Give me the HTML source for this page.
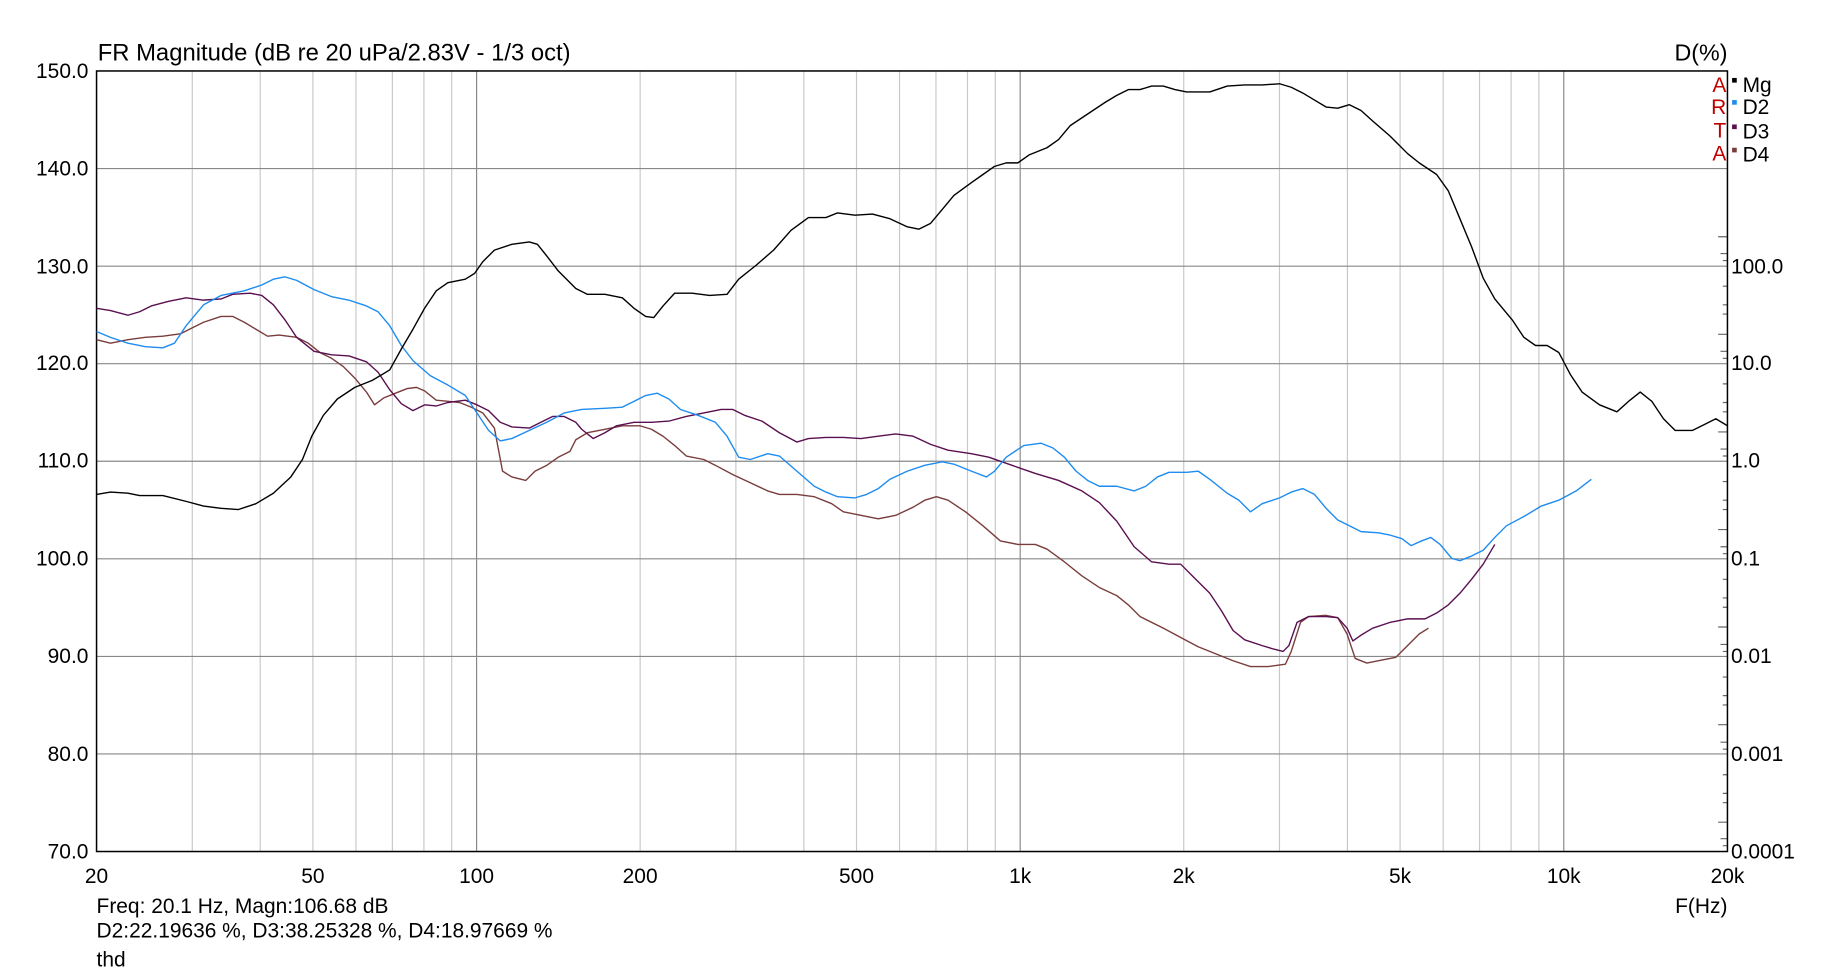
<!DOCTYPE html>
<html><head><meta charset="utf-8"><style>html,body{margin:0;padding:0;background:#fff}svg{display:block}</style></head>
<body>
<svg width="1824" height="976" viewBox="0 0 1568 839" xmlns="http://www.w3.org/2000/svg" font-family="Liberation Sans, Arial, sans-serif">
<rect width="1568" height="839" fill="#fff"/>
<g stroke="#c8c8c8" stroke-width="1">
<line x1="165.3" y1="61" x2="165.3" y2="732"/><line x1="223.7" y1="61" x2="223.7" y2="732"/><line x1="269" y1="61" x2="269" y2="732"/><line x1="306" y1="61" x2="306" y2="732"/><line x1="337.3" y1="61" x2="337.3" y2="732"/><line x1="364.4" y1="61" x2="364.4" y2="732"/><line x1="388.3" y1="61" x2="388.3" y2="732"/>
<line x1="550.3" y1="61" x2="550.3" y2="732"/><line x1="632.6" y1="61" x2="632.6" y2="732"/><line x1="691" y1="61" x2="691" y2="732"/><line x1="736.3" y1="61" x2="736.3" y2="732"/><line x1="773.3" y1="61" x2="773.3" y2="732"/><line x1="804.6" y1="61" x2="804.6" y2="732"/><line x1="831.7" y1="61" x2="831.7" y2="732"/><line x1="855.6" y1="61" x2="855.6" y2="732"/>
<line x1="1017.6" y1="61" x2="1017.6" y2="732"/><line x1="1099.9" y1="61" x2="1099.9" y2="732"/><line x1="1158.3" y1="61" x2="1158.3" y2="732"/><line x1="1203.6" y1="61" x2="1203.6" y2="732"/><line x1="1240.6" y1="61" x2="1240.6" y2="732"/><line x1="1271.9" y1="61" x2="1271.9" y2="732"/><line x1="1299" y1="61" x2="1299" y2="732"/><line x1="1322.9" y1="61" x2="1322.9" y2="732"/>
</g>
<g stroke="#888" stroke-width="1">
<line x1="409.7" y1="61" x2="409.7" y2="732"/><line x1="877" y1="61" x2="877" y2="732"/><line x1="1344.3" y1="61" x2="1344.3" y2="732"/>
<line x1="83" y1="144.9" x2="1485" y2="144.9"/><line x1="83" y1="228.8" x2="1485" y2="228.8"/><line x1="83" y1="312.6" x2="1485" y2="312.6"/><line x1="83" y1="396.5" x2="1485" y2="396.5"/><line x1="83" y1="480.4" x2="1485" y2="480.4"/><line x1="83" y1="564.3" x2="1485" y2="564.3"/><line x1="83" y1="648.1" x2="1485" y2="648.1"/>
</g>
<g stroke="#666" stroke-width="1">
<path d="M1477 203.5H1485M1479 218H1485M1481 224H1485M1477 287.4H1485M1479 302H1485M1481 308H1485M1477 371.3H1485M1479 386H1485M1481 392H1485M1477 455.2H1485M1479 470H1485M1481 476H1485M1477 539H1485M1479 554H1485M1481 560H1485M1477 623H1485M1479 638H1485M1481 644H1485M1477 706.8H1485M1479 721H1485M1481 727H1485M1481 246H1485M1481 262H1485M1481 270H1485M1481 330H1485M1481 346H1485M1481 354H1485M1481 414H1485M1481 430H1485M1481 438H1485M1481 498H1485M1481 514H1485M1481 522H1485M1481 582H1485M1481 598H1485M1481 606H1485M1481 666H1485M1481 682H1485M1481 690H1485"/>
</g>
<rect x="83" y="61" width="1402" height="671" fill="none" stroke="#000" stroke-width="1.3"/>
<g fill="none" stroke-width="1.2" stroke-linejoin="round">
<polyline stroke="#7a3d3d" points="83,292 95,295 110,292 125,290 140,289 155,287 165,282 175,277 190,272 200,272 210,277 220,283 230,289 240,288 255,290 265,295 275,303 285,308 295,315 305,325 315,337 322,348 330,342 340,338 350,334 358,333 365,336 375,344 385,345 395,346 405,350 415,355 425,368 432,405 440,410 452,413 460,405 470,400 480,393 490,388 495,378 505,372 520,369 535,366 550,366 560,369 570,375 580,383 590,392 605,395 615,400 630,408 645,415 660,422 670,425 685,425 700,427 715,433 725,440 740,443 755,446 770,443 785,436 795,430 805,427 815,430 830,440 845,452 860,465 875,468 890,468 900,472 915,483 930,495 945,505 960,512 970,520 980,530 1000,540 1015,548 1030,556 1045,562 1060,568 1075,573 1090,573 1105,571 1110,560 1118,535 1125,530 1140,529 1150,531 1158,545 1165,566 1175,570 1190,567 1200,565 1210,555 1220,545 1228,540"/>
<polyline stroke="#5a0f50" points="83,265 95,267 110,271 120,268 130,263 145,259 160,256 175,258 190,257 200,253 215,252 225,254 235,262 245,275 255,290 270,302 285,305 300,306 315,311 325,320 335,335 345,347 355,353 365,348 375,349 385,346 400,344 410,348 420,353 430,363 440,367 455,368 465,363 475,358 485,358 495,363 500,369 510,377 520,372 530,366 545,363 560,363 575,362 590,358 605,355 620,352 630,352 640,357 655,362 670,372 685,380 695,377 710,376 725,376 740,377 755,375 770,373 785,375 800,382 815,387 835,390 850,393 870,400 890,407 910,413 930,422 945,432 960,448 975,470 990,483 1005,485 1015,485 1025,495 1040,510 1050,525 1060,542 1070,550 1085,555 1095,558 1103,560 1108,555 1115,535 1125,530 1140,530 1150,531 1158,540 1163,551 1170,546 1180,540 1195,535 1210,532 1225,532 1235,527 1245,520 1255,510 1265,498 1275,485 1285,468"/>
<polyline stroke="#1e8cf0" points="83,285 95,290 110,295 125,298 140,299 150,295 160,280 175,262 190,254 210,250 225,245 235,240 245,238 255,241 270,249 285,255 300,258 315,263 325,268 335,280 345,297 355,310 370,323 385,331 400,340 410,355 420,370 430,379 440,377 455,370 470,363 485,355 500,352 520,351 535,350 545,345 555,340 565,338 575,343 585,352 600,357 615,363 625,375 635,393 645,395 660,390 670,392 685,405 700,418 710,423 720,427 735,428 745,425 755,420 765,412 780,405 795,400 810,397 820,399 835,405 848,410 855,405 865,393 880,383 895,381 905,385 915,393 925,405 935,413 945,418 960,418 975,422 985,418 995,410 1005,406 1020,406 1030,405 1040,412 1055,424 1065,430 1075,440 1085,433 1100,428 1110,423 1120,420 1130,425 1140,437 1150,447 1160,452 1170,457 1185,458 1195,460 1205,463 1213,469 1222,465 1230,462 1238,468 1248,480 1255,482 1265,478 1275,473 1285,462 1295,452 1310,444 1325,435 1340,430 1355,422 1368,412"/>
<polyline stroke="#000" points="83,425 95,423 110,424 120,426 140,426 160,431 175,435 190,437 205,438 220,433 235,424 250,410 260,395 268,375 278,357 290,343 305,333 320,327 335,318 345,300 355,283 365,265 375,250 385,243 400,240 408,235 415,225 425,215 440,210 455,208 462,210 470,220 480,233 495,248 505,253 520,253 535,256 545,265 555,272 562,273 570,263 580,252 595,252 610,254 625,253 635,240 650,228 665,215 680,198 695,187 710,187 720,183 735,185 750,184 765,188 780,195 790,197 800,192 810,180 820,168 835,157 845,150 855,143 865,140 875,140 885,133 900,127 910,120 920,108 935,98 950,88 960,82 970,77 980,77 990,74 1000,74 1010,77 1020,79 1040,79 1055,74 1070,73 1085,73 1100,72 1110,75 1120,80 1130,86 1140,92 1150,93 1160,90 1170,95 1180,104 1195,117 1210,132 1220,140 1235,150 1245,164 1255,188 1265,212 1275,239 1285,257 1300,275 1310,290 1320,297 1330,297 1340,303 1350,322 1360,337 1375,348 1390,354 1400,345 1410,337 1420,345 1430,360 1440,370 1455,370 1465,365 1475,360 1485,366"/>
</g>
<g font-size="18" fill="#000">
<text x="84" y="52" font-size="20.5">FR Magnitude (dB re 20 uPa/2.83V - 1/3 oct)</text>
<text x="1485" y="52" text-anchor="end" font-size="20">D(%)</text>
<g text-anchor="end">
<text x="76" y="67">150.0</text><text x="76" y="151">140.0</text><text x="76" y="235">130.0</text><text x="76" y="318">120.0</text><text x="76" y="402">110.0</text><text x="76" y="486">100.0</text><text x="76" y="570">90.0</text><text x="76" y="654">80.0</text><text x="76" y="738">70.0</text>
</g>
<text x="1488" y="235">100.0</text><text x="1488" y="318">10.0</text><text x="1488" y="402">1.0</text><text x="1488" y="486">0.1</text><text x="1488" y="570">0.01</text><text x="1488" y="654">0.001</text><text x="1488" y="738">0.0001</text>
<g text-anchor="middle">
<text x="83" y="759">20</text><text x="269" y="759">50</text><text x="409.7" y="759">100</text><text x="550.3" y="759">200</text><text x="736.3" y="759">500</text><text x="877" y="759">1k</text><text x="1017.6" y="759">2k</text><text x="1203.6" y="759">5k</text><text x="1344.3" y="759">10k</text><text x="1485" y="759">20k</text>
</g>
<text x="1485" y="785" text-anchor="end">F(Hz)</text>
<text x="83" y="785">Freq: 20.1 Hz, Magn:106.68 dB</text>
<text x="83" y="806">D2:22.19636 %, D3:38.25328 %, D4:18.97669 %</text>
<text x="83" y="831">thd</text>
<g fill="#c00000" text-anchor="end"><text x="1484" y="79">A</text><text x="1484" y="98">R</text><text x="1484" y="118">T</text><text x="1484" y="138">A</text></g>
<text x="1498" y="79">Mg</text><text x="1498" y="98">D2</text><text x="1498" y="119">D3</text><text x="1498" y="139">D4</text>
</g>
<rect x="1489" y="67" width="4" height="4" fill="#000"/>
<rect x="1489" y="86" width="4" height="4" fill="#1e8cf0"/>
<rect x="1489" y="107" width="4" height="4" fill="#5a0f50"/>
<rect x="1489" y="127" width="4" height="4" fill="#7a3d3d"/>
</svg>
</body></html>
